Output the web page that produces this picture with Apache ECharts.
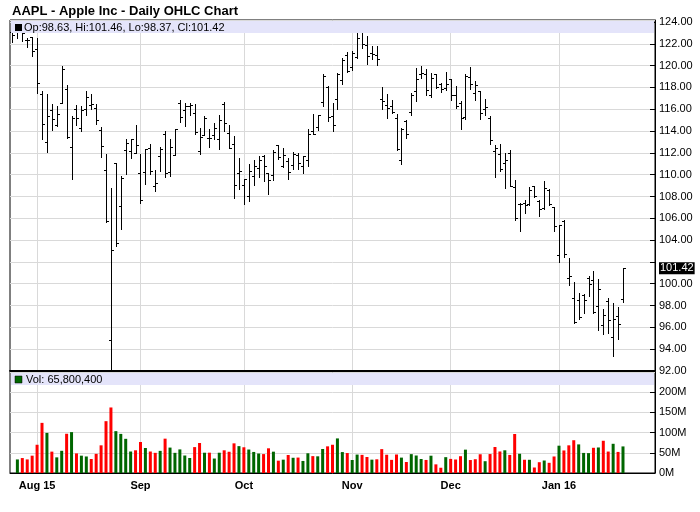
<!DOCTYPE html>
<html>
<head>
<meta charset="utf-8">
<script src="https://cdn.jsdelivr.net/npm/echarts@6/dist/echarts.min.js"></script>
<style>
html,body{margin:0;padding:0;background:#fff;}
#main{width:700px;height:512px;}
</style>
</head>
<body>
<div id="main"></div>
<script>
// ---- Data (AAPL daily, Jul 27 2015 - Jan 22 2016) ----
const dates = [
'2015-07-27','2015-07-28','2015-07-29','2015-07-30','2015-07-31',
'2015-08-03','2015-08-04','2015-08-05','2015-08-06','2015-08-07','2015-08-10','2015-08-11','2015-08-12','2015-08-13','2015-08-14','2015-08-17','2015-08-18','2015-08-19','2015-08-20','2015-08-21','2015-08-24','2015-08-25','2015-08-26','2015-08-27','2015-08-28','2015-08-31',
'2015-09-01','2015-09-02','2015-09-03','2015-09-04','2015-09-08','2015-09-09','2015-09-10','2015-09-11','2015-09-14','2015-09-15','2015-09-16','2015-09-17','2015-09-18','2015-09-21','2015-09-22','2015-09-23','2015-09-24','2015-09-25','2015-09-28','2015-09-29','2015-09-30',
'2015-10-01','2015-10-02','2015-10-05','2015-10-06','2015-10-07','2015-10-08','2015-10-09','2015-10-12','2015-10-13','2015-10-14','2015-10-15','2015-10-16','2015-10-19','2015-10-20','2015-10-21','2015-10-22','2015-10-23','2015-10-26','2015-10-27','2015-10-28','2015-10-29','2015-10-30',
'2015-11-02','2015-11-03','2015-11-04','2015-11-05','2015-11-06','2015-11-09','2015-11-10','2015-11-11','2015-11-12','2015-11-13','2015-11-16','2015-11-17','2015-11-18','2015-11-19','2015-11-20','2015-11-23','2015-11-24','2015-11-25','2015-11-27','2015-11-30',
'2015-12-01','2015-12-02','2015-12-03','2015-12-04','2015-12-07','2015-12-08','2015-12-09','2015-12-10','2015-12-11','2015-12-14','2015-12-15','2015-12-16','2015-12-17','2015-12-18','2015-12-21','2015-12-22','2015-12-23','2015-12-24','2015-12-28','2015-12-29','2015-12-30','2015-12-31',
'2016-01-04','2016-01-05','2016-01-06','2016-01-07','2016-01-08','2016-01-11','2016-01-12','2016-01-13','2016-01-14','2016-01-15','2016-01-19','2016-01-20','2016-01-21','2016-01-22'
];
const open = [
123.09,123.38,123.15,122.32,122.60,
121.50,117.42,112.95,115.97,114.58,116.53,117.81,112.53,116.04,114.32,116.04,116.43,116.10,114.08,110.43,94.87,111.11,107.09,112.23,112.17,112.03,
110.15,110.23,112.49,108.97,111.75,113.76,110.27,111.79,116.58,115.93,116.25,115.66,112.21,113.67,113.38,113.63,113.25,116.44,113.85,112.83,110.17,
109.07,108.01,109.88,110.63,111.74,110.19,110.00,112.73,110.82,111.29,110.93,111.78,110.80,111.34,114.00,114.33,116.70,118.08,115.40,116.93,118.70,120.99,
119.87,120.79,123.13,121.85,121.11,120.96,116.90,116.37,116.26,115.20,111.38,114.92,115.76,117.64,119.20,119.27,117.33,119.21,118.29,117.99,
118.75,117.34,116.55,115.29,118.98,117.52,117.64,116.04,115.19,112.18,111.94,111.07,112.02,108.91,107.28,107.40,107.27,109.00,107.59,106.96,108.58,107.01,
102.61,105.75,100.56,98.68,98.55,98.97,100.55,100.32,97.96,96.20,98.41,95.10,97.06,98.63
];
const high = [
123.61,123.91,123.50,122.57,122.64,
122.57,117.70,117.44,116.50,116.25,119.99,118.18,115.42,116.40,116.31,117.65,117.44,116.52,114.35,111.90,108.80,111.11,109.89,113.24,113.31,114.53,
111.88,112.34,112.78,110.45,112.56,114.02,113.28,114.21,116.89,116.53,116.54,116.49,114.30,115.37,114.18,114.72,115.50,116.69,114.57,113.51,111.54,
109.62,111.01,111.37,111.74,111.77,110.19,112.28,112.75,112.45,111.52,112.10,112.00,111.75,114.17,115.58,115.50,119.23,118.13,116.54,119.30,120.69,121.22,
121.36,123.49,123.82,122.69,121.81,121.81,118.07,117.42,116.82,115.57,114.24,115.05,117.49,119.75,119.92,119.73,119.35,119.23,118.41,119.41,
118.81,118.11,116.79,119.25,119.86,118.60,117.69,116.94,115.39,112.68,112.80,111.99,112.25,109.52,107.37,107.72,108.85,109.00,107.69,109.43,108.70,107.03,
105.37,105.85,102.37,100.13,99.11,99.06,100.69,101.19,100.48,97.71,98.65,98.19,97.88,101.46
];
const low = [
122.12,122.55,122.27,121.71,120.91,
117.52,113.25,112.10,114.12,114.50,116.53,113.33,109.63,114.54,114.01,115.50,116.01,114.68,111.63,105.65,92.00,103.50,105.05,110.02,111.54,112.00,
107.36,109.13,110.04,108.51,110.32,109.77,109.90,111.76,114.86,114.42,115.44,113.72,111.87,113.66,112.52,113.30,112.37,114.02,112.44,107.86,108.73,
107.31,107.55,109.07,109.77,109.41,108.21,109.49,111.44,110.68,109.56,110.49,110.53,110.11,110.82,113.70,114.10,116.33,114.92,113.99,116.06,118.27,119.45,
119.61,120.70,121.62,120.18,120.62,120.05,116.06,115.21,115.65,112.27,111.00,113.32,115.50,116.76,118.85,117.34,117.12,117.92,117.60,117.75,
116.86,116.08,114.22,115.11,117.81,116.86,115.08,115.51,112.85,109.79,110.35,108.80,108.98,105.81,104.82,106.45,107.20,107.95,106.18,106.86,107.18,104.82,
102.00,102.41,99.87,96.43,96.76,97.34,98.84,97.30,95.74,95.36,95.50,93.42,94.94,98.37
];
const close = [
122.77,123.38,122.99,122.37,121.30,
118.44,114.64,115.40,115.13,115.52,119.72,113.49,115.24,115.15,115.96,117.16,116.50,115.01,112.65,105.76,103.12,103.74,109.69,112.92,113.29,112.76,
107.72,112.34,110.37,109.27,112.31,110.15,112.57,114.21,115.31,116.28,116.41,113.92,113.45,115.21,113.40,114.32,115.00,114.71,112.44,109.06,110.30,
109.58,110.38,110.78,111.31,110.78,109.50,112.12,111.60,111.79,110.21,111.86,111.04,111.73,113.77,113.76,115.50,119.08,115.28,114.55,119.27,120.53,119.50,
121.18,122.57,122.00,120.92,121.06,120.57,116.77,116.11,115.72,112.34,114.18,113.69,117.29,118.78,119.30,117.75,118.88,118.03,117.81,118.30,
117.34,116.28,115.20,119.03,118.28,118.23,115.62,116.17,113.18,112.48,110.49,111.34,108.98,106.03,107.33,107.23,108.61,108.03,106.82,108.74,107.32,105.26,
105.35,102.71,100.70,96.45,96.96,98.53,99.96,97.39,99.52,97.13,96.66,96.79,96.30,101.42
];
// volume in millions of shares (first day not drawn in the reference)
const volumeM = [
null,33.6,37.0,33.6,42.9,
69.9,124.1,99.3,52.9,38.7,54.95,97.1,101.2,48.5,42.9,40.9,34.6,47.4,68.5,128.3,162.2,103.6,96.8,84.6,53.2,56.2,
76.8,61.9,53.2,49.9,54.8,85.0,62.9,49.9,58.4,43.3,37.2,64.1,74.3,50.2,50.3,35.8,50.2,56.2,52.6,73.4,66.5,
63.7,58.1,52.1,48.2,46.8,61.1,52.8,30.5,33.0,44.5,37.7,38.2,29.8,48.8,41.8,41.3,59.4,66.0,69.9,85.6,51.8,49.4,
32.2,45.6,44.9,39.6,33.0,33.9,59.1,45.2,32.5,45.8,38.1,27.3,46.7,43.3,34.6,32.3,42.8,21.4,13.0,39.2,
34.9,33.4,41.6,57.8,32.1,34.1,46.4,29.2,46.9,64.3,53.3,56.2,44.7,96.5,47.6,32.8,32.7,13.6,26.7,30.9,25.2,40.9,
67.6,55.8,68.5,81.1,70.8,49.7,49.2,62.4,63.2,79.8,53.1,72.3,52.2,65.8004
];
const tickDates  = ['2015-08-03','2015-09-01','2015-10-01','2015-11-02','2015-12-01','2016-01-04'];
const tickLabels = ['Aug 15','Sep','Oct','Nov','Dec','Jan 16'];
const priceTicks = {min: 92, max: 124, step: 2};
const volTicks = {min: 0, max: 200, step: 50}; // millions

// ---- build ----
const FONT = '"Liberation Sans", Arial, sans-serif';
const padCount = 6;
const xCats = dates.concat(Array.from({length: padCount}, (_, k) => '_pad' + k));
const n = dates.length;
const last = n - 1;
const ohlcData = dates.map((d, i) => [i, open[i], high[i], low[i], close[i]]);
const volData = volumeM.map(v => v == null ? null : v * 1e6);
const UP = '#006600', DOWN = '#ff0000';
function volColor(i) { return (i > 0 && close[i] < close[i - 1]) ? DOWN : UP; }
const isTick = (idx, val) => tickDates.indexOf(val) >= 0;
const GRID_COLOR = '#d9d9d9';

function renderOHLC(params, api) {
  const i = api.value(0);
  const pH = api.coord([i, api.value(2)]);
  const pL = api.coord([i, api.value(3)]);
  const pO = api.coord([i, api.value(1)]);
  const pC = api.coord([i, api.value(4)]);
  const x = Math.round(pH[0]) + 0.5;
  const yo = Math.round(pO[1]) + 0.5, yc = Math.round(pC[1]) + 0.5;
  const style = {stroke: '#000', lineWidth: 1};
  return {type: 'group', children: [
    {type: 'line', shape: {x1: x, y1: Math.round(pH[1]), x2: x, y2: Math.round(pL[1]) + 1}, style},
    {type: 'line', shape: {x1: x - 2.5, y1: yo, x2: x, y2: yo}, style},
    {type: 'line', shape: {x1: x, y1: yc, x2: x + 2.5, y2: yc}, style}
  ]};
}

const legendText = 'Op:' + open[last].toFixed(2) + ', Hi:' + high[last].toFixed(2) +
  ', Lo:' + low[last].toFixed(2) + ', Cl:' + close[last].toFixed(2);
const volText = 'Vol: ' + Math.round(volumeM[last] * 1e6).toLocaleString('en-US');

const chart = echarts.init(document.getElementById('main'), null, {renderer: 'canvas'});
const axisLabelStyle = {color: '#000', fontSize: 11, fontFamily: FONT};
chart.setOption({
  animation: false,
  backgroundColor: '#fff',
  title: {
    text: 'AAPL - Apple Inc - Daily OHLC Chart',
    left: 12, top: 5, padding: 0,
    textStyle: {fontSize: 13, fontWeight: 'bold', color: '#000', fontFamily: FONT}
  },
  grid: [
    {left: 10, right: 45, top: 20, height: 351, show: true, borderColor: '#000', borderWidth: 1, backgroundColor: '#fff'},
    {left: 10, right: 45, top: 372, height: 101, show: true, borderColor: '#000', borderWidth: 1, backgroundColor: '#fff'}
  ],
  xAxis: [
    {
      type: 'category', gridIndex: 0, data: xCats,
      axisLabel: {show: false}, axisTick: {show: false},
      axisLine: {lineStyle: {color: '#000', width: 2}},
      splitLine: {show: true, interval: isTick, alignWithLabel: true, lineStyle: {color: GRID_COLOR, width: 1}}
    },
    {
      type: 'category', gridIndex: 1, data: xCats,
      axisTick: {show: false},
      axisLine: {lineStyle: {color: '#000', width: 1}},
      axisLabel: {
        interval: isTick, margin: 7,
        formatter: v => { const k = tickDates.indexOf(v); return k >= 0 ? tickLabels[k] : ''; },
        color: '#000', fontSize: 11, fontWeight: 'bold', fontFamily: FONT
      },
      splitLine: {show: true, interval: isTick, alignWithLabel: true, lineStyle: {color: GRID_COLOR, width: 1}}
    }
  ],
  yAxis: [
    {
      type: 'value', gridIndex: 0, position: 'right',
      min: priceTicks.min, max: priceTicks.max + 0.18, interval: priceTicks.step,
      axisLine: {show: true, lineStyle: {color: '#000'}},
      axisTick: {show: true, inside: true, length: 5, lineStyle: {color: '#000'}},
      axisLabel: Object.assign({
        margin: 4, showMaxLabel: false,
        // the highlighted last-close label replaces the tick label it would overlap
        formatter: v => Math.abs(v - close[last]) < 1.2 ? '' : v.toFixed(2)
      }, axisLabelStyle),
      splitLine: {show: true, lineStyle: {color: GRID_COLOR}}
    },
    {
      type: 'value', gridIndex: 1, position: 'right',
      min: volTicks.min * 1e6, max: 250e6, interval: volTicks.step * 1e6,
      axisLine: {show: true, lineStyle: {color: '#000'}},
      axisTick: {show: true, inside: true, length: 5, lineStyle: {color: '#000'}},
      axisLabel: Object.assign({margin: 4, showMaxLabel: false, formatter: v => Math.round(v / 1e6) + 'M'}, axisLabelStyle),
      splitLine: {show: true, lineStyle: {color: GRID_COLOR}}
    }
  ],
  series: [
    {
      type: 'custom', name: 'OHLC', xAxisIndex: 0, yAxisIndex: 0,
      data: ohlcData, encode: {x: 0, y: [1, 2, 3, 4]},
      renderItem: renderOHLC, clip: true, z: 3,
      markLine: {
        silent: true, symbol: 'none', animation: false,
        lineStyle: {color: 'rgba(0,0,0,0)', width: 0},
        label: {
          show: true, position: 'end', distance: 4,
          formatter: () => close[last].toFixed(2),
          color: '#fff', backgroundColor: '#000', padding: [1, 1, 0, 1],
          fontSize: 11, fontFamily: FONT
        },
        data: [{yAxis: close[last]}]
      }
    },
    {
      type: 'bar', name: 'Volume', xAxisIndex: 1, yAxisIndex: 1,
      data: volData, barWidth: 3,
      itemStyle: {color: p => volColor(p.dataIndex)}
    }
  ],
  graphic: [
    {type: 'rect', z: 50, shape: {x: 11, y: 21, width: 643, height: 12}, style: {fill: '#e4e4fa'}},
    {type: 'rect', z: 51, shape: {x: 15, y: 24, width: 7, height: 7}, style: {fill: '#000'}},
    {type: 'text', z: 51, x: 24, y: 27.5, style: {text: legendText, fill: '#000', font: '11px ' + FONT, verticalAlign: 'middle'}},
    {type: 'rect', z: 50, shape: {x: 11, y: 373, width: 643, height: 12}, style: {fill: '#e4e4fa'}},
    {type: 'rect', z: 51, shape: {x: 15, y: 376, width: 7, height: 7}, style: {fill: volColor(last), stroke: '#000', lineWidth: 0.5}},
    {type: 'text', z: 51, x: 26, y: 379.5, style: {text: volText, fill: '#000', font: '11px ' + FONT, verticalAlign: 'middle'}}
  ]
});
</script>
</body>
</html>
